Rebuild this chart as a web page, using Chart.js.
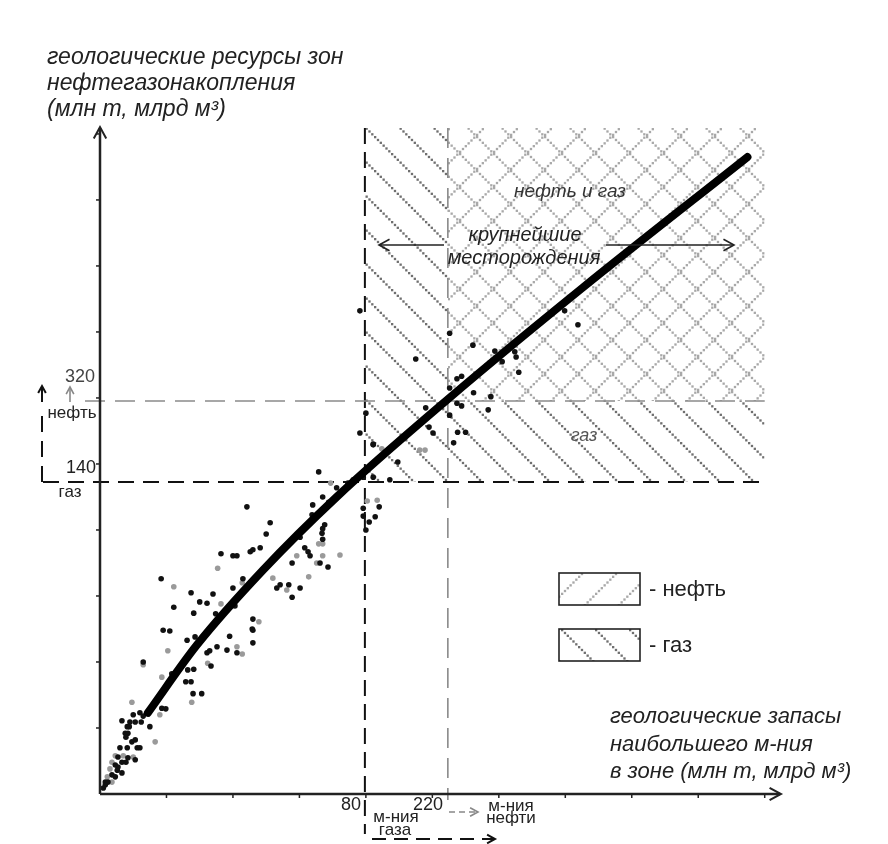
<!DOCTYPE html>
<html>
<head>
<meta charset="utf-8">
<script src="https://cdn.jsdelivr.net/npm/chart.js@4.4.1/dist/chart.umd.min.js"></script>
<style>
  html, body { margin: 0; padding: 0; background: #fff; }
  canvas { display: block; }
</style>
</head>
<body>
<canvas id="scheme" width="888" height="844"></canvas>
<script>
// schematic units: one axis tick = 1 unit
const xTicks = [1, 2, 3, 4, 5, 6, 7, 8, 9, 10];
const yTicks = [1, 2, 3, 4, 5, 6, 7, 8, 9, 10];
const xMarkValues = [3.985, 5.233];
const xMarkLabels = ['80', '220'];
const yMarkValues = [4.727, 5.955];
const yMarkLabels = ['140', '320'];
const zoneRight = 10.0;
const zoneTop = 10.09;

const trendX = [0.72, 1.46, 2.45, 3.56, 5.22, 7.26, 9.74];
const trendY = [1.23, 2.26, 3.39, 4.50, 5.97, 7.67, 9.65];

const blackX = [0.95,1.05,1.31,1.43,1.95,2.30,2.30,0.65,1.61,1.65,1.76,1.91,2.06,1.67,1.08,1.32,1.41,1.29,1.37,1.40,1.53,0.93,0.99,0.50,0.60,0.65,0.33,0.41,0.44,0.45,0.53,0.62,0.75,0.38,0.42,0.39,0.48,0.53,0.30,0.41,0.56,0.60,0.27,0.42,0.53,0.33,0.39,0.23,0.27,0.26,0.33,0.18,0.23,0.08,0.12,0.08,0.05,
  4.11,3.29,3.56,3.73,3.81,2.21,3.20,3.35,3.44,3.19,2.56,3.38,3.35,3.34,2.50,2.41,2.26,2.30,1.82,2.00,2.06,3.01,3.35,3.08,3.13,3.16,3.31,2.89,3.43,2.15,2.71,2.66,2.84,3.01,2.89,2.00,0.92,1.37,1.70,1.50,1.61,1.11,2.03,1.74,1.41,2.30,2.29,
  3.91,5.26,5.61,4.75,5.94,5.97,6.05,6.24,6.26,6.30,6.99,7.19,5.37,5.44,5.26,5.62,5.88,5.37,5.44,5.84,4.90,4.00,5.26,4.95,5.01,5.38,5.50,5.32,3.91,4.11,4.48,3.96,4.11,4.36,4.20,3.96,3.96,4.05,4.14,4.00];
const blackY = [2.48,2.47,2.33,2.38,2.39,2.48,2.29,2.00,2.14,2.17,2.23,2.18,2.14,1.94,1.82,1.88,1.89,1.70,1.70,1.52,1.52,1.30,1.29,1.20,1.23,1.18,1.11,1.02,1.02,1.09,1.09,1.09,1.02,0.92,0.92,0.86,0.79,0.82,0.70,0.70,0.70,0.70,0.56,0.55,0.52,0.48,0.48,0.44,0.41,0.36,0.32,0.29,0.26,0.18,0.18,0.14,0.09,
  5.29,4.88,4.64,4.71,4.76,4.35,4.38,4.50,4.42,4.23,4.11,4.08,4.02,3.95,3.94,3.73,3.67,3.70,3.64,3.61,3.61,3.89,3.86,3.73,3.67,3.61,3.50,3.50,3.44,3.26,3.17,3.12,3.17,3.12,2.98,3.12,3.26,3.05,3.03,2.91,2.89,2.83,2.85,2.73,2.74,2.65,2.50,
  7.32,6.98,6.80,6.59,6.71,6.61,6.55,6.70,6.62,6.39,7.32,7.11,6.29,6.33,6.15,6.08,6.02,5.92,5.88,5.82,5.85,5.77,5.74,5.56,5.47,5.48,5.48,5.32,5.47,5.30,5.03,4.80,4.80,4.76,4.35,4.33,4.21,4.12,4.20,4.00];

const grayX = [1.02,0.65,2.06,2.14,1.62,0.93,1.38,0.90,0.48,0.83,0.35,0.50,0.23,0.18,0.15,0.11,0.18,3.47,3.29,3.35,2.96,3.35,3.61,3.26,1.77,2.60,2.14,3.14,2.81,1.11,1.82,2.39,4.02,4.17,4.81,4.89,4.24];
const grayY = [2.17,1.96,2.23,2.12,1.98,1.77,1.39,1.20,1.39,0.79,0.58,0.56,0.58,0.48,0.38,0.26,0.18,4.71,3.79,3.79,3.61,3.61,3.62,3.50,3.42,3.27,3.20,3.29,3.09,3.14,2.88,2.61,4.44,4.45,5.21,5.21,5.23];

const pts = (xs, ys) => xs.map((x, i) => ({ x: x, y: ys[i] }));

const canvas = document.getElementById('scheme');
const mainCtx = canvas.getContext('2d');

// dotted diagonal hatch tiles
function hatchTile(slashes, color, white) {
  const T = 34, step = T / 12, d = 2.3;
  const c = document.createElement('canvas');
  c.width = T; c.height = T;
  const g = c.getContext('2d');
  if (white) { g.fillStyle = '#fff'; g.fillRect(0, 0, T, T); }
  g.fillStyle = color;
  for (let i = 0; i < T; i += step) {
    if (slashes.includes('\\')) g.fillRect(i, i, d, d);
    if (slashes.includes('/')) g.fillRect(i, T - d - i, d, d);
  }
  return mainCtx.createPattern(c, 'repeat');
}
const gasPattern = hatchTile('\\', '#6f6f6f', false);
const oilPattern = hatchTile('/', '#a8a8a8', false);
const crossPattern = hatchTile('\\/', '#a8a8a8', true);

function dashed(ctx, x1, y1, x2, y2, color, w, dash) {
  ctx.save();
  ctx.strokeStyle = color; ctx.lineWidth = w; ctx.setLineDash(dash);
  ctx.beginPath(); ctx.moveTo(x1, y1); ctx.lineTo(x2, y2); ctx.stroke();
  ctx.restore();
}
function arrow(ctx, x1, y1, x2, y2, color, w, head, dash) {
  ctx.save();
  ctx.strokeStyle = color; ctx.lineWidth = w;
  if (dash) ctx.setLineDash(dash);
  ctx.beginPath(); ctx.moveTo(x1, y1); ctx.lineTo(x2, y2); ctx.stroke();
  ctx.setLineDash([]);
  const a = Math.atan2(y2 - y1, x2 - x1);
  ctx.beginPath();
  ctx.moveTo(x2 - head * Math.cos(a - 0.5), y2 - head * Math.sin(a - 0.5));
  ctx.lineTo(x2, y2);
  ctx.lineTo(x2 - head * Math.cos(a + 0.5), y2 - head * Math.sin(a + 0.5));
  ctx.stroke();
  ctx.restore();
}
function text(ctx, s, x, y, font, color, align) {
  ctx.font = font; ctx.fillStyle = color;
  ctx.textAlign = align || 'left'; ctx.textBaseline = 'middle';
  ctx.fillText(s, x, y);
}

const schemePlugin = {
  id: 'scheme',
  // guide lines go over the hatching but under the points
  afterDatasetDraw(chart, args) {
    if (args.index !== 3) return;
    const ctx = chart.ctx, X = v => chart.scales.x.getPixelForValue(v), Y = v => chart.scales.y.getPixelForValue(v);
    const top = Y(zoneTop), right = X(zoneRight);
    dashed(ctx, X(xMarkValues[0]), top, X(xMarkValues[0]), 834, '#111', 2, [16, 8]);
    dashed(ctx, X(xMarkValues[1]), top, X(xMarkValues[1]), 800, '#8a8a8a', 1.6, [20, 10]);
    dashed(ctx, 43, Y(yMarkValues[0]), right, Y(yMarkValues[0]), '#111', 2, [16, 9]);
    dashed(ctx, 85, Y(yMarkValues[1]), right, Y(yMarkValues[1]), '#8a8a8a', 1.6, [20, 10]);
    dashed(ctx, 42, Y(yMarkValues[0]), 42, 414, '#111', 2, [16, 9]);
  },
  afterDraw(chart) {
    const ctx = chart.ctx, X = v => chart.scales.x.getPixelForValue(v), Y = v => chart.scales.y.getPixelForValue(v);
    const x0 = X(0), y0 = Y(0);
    ctx.save();
    // axes
    ctx.strokeStyle = '#222'; ctx.lineWidth = 2.5;
    ctx.beginPath(); ctx.moveTo(x0, y0); ctx.lineTo(780, y0); ctx.moveTo(x0, y0); ctx.lineTo(x0, 128); ctx.stroke();
    arrow(ctx, x0, y0, 781, y0, '#222', 2, 13);
    arrow(ctx, x0, y0, x0, 127, '#222', 2, 13);
    ctx.lineWidth = 1.5;
    xTicks.forEach(v => { ctx.beginPath(); ctx.moveTo(X(v), y0 - 1); ctx.lineTo(X(v), y0 + 4); ctx.stroke(); });
    yTicks.forEach(v => { ctx.beginPath(); ctx.moveTo(x0 + 1, Y(v)); ctx.lineTo(x0 - 4, Y(v)); ctx.stroke(); });

    // legend boxes
    [[573, oilPattern, '- нефть'], [629, gasPattern, '- газ']].forEach(([y, pat, lab]) => {
      ctx.fillStyle = '#fff'; ctx.fillRect(559, y, 81, 32);
      ctx.fillStyle = pat; ctx.fillRect(559, y, 81, 32);
      ctx.strokeStyle = '#222'; ctx.lineWidth = 1.6; ctx.strokeRect(559, y, 81, 32);
      text(ctx, lab, 649, y + 17, '22px "Liberation Sans", Arial, sans-serif', '#222');
    });

    // axis titles
    const it = 'italic 23px "Liberation Sans", Arial, sans-serif';
    text(ctx, 'геологические ресурсы зон', 47, 58, it, '#222');
    text(ctx, 'нефтегазонакопления', 47, 84, it, '#222');
    text(ctx, '(млн т, млрд м³)', 47, 110, it, '#222');
    const it2 = 'italic 22px "Liberation Sans", Arial, sans-serif';
    text(ctx, 'геологические запасы', 610, 717, it2, '#222');
    text(ctx, 'наибольшего м-ния', 610, 745, it2, '#222');
    text(ctx, 'в зоне (млн т, млрд м³)', 610, 772, it2, '#222');

    // zone labels
    text(ctx, 'нефть и газ', 570, 192, 'italic 19px "Liberation Sans", Arial, sans-serif', '#333', 'center');
    text(ctx, 'крупнейшие', 525, 235, 'italic 20px "Liberation Sans", Arial, sans-serif', '#222', 'center');
    text(ctx, 'месторождения', 524, 258, 'italic 20px "Liberation Sans", Arial, sans-serif', '#222', 'center');
    arrow(ctx, 444, 245, 379, 245, '#222', 1.6, 12);
    arrow(ctx, 606, 245, 734, 245, '#222', 1.6, 12);
    text(ctx, 'газ', 584, 436, 'italic 18px "Liberation Sans", Arial, sans-serif', '#555', 'center');

    // y marks
    const nf = '18px "Liberation Sans", Arial, sans-serif';
    text(ctx, yMarkLabels[1], 80, 377, nf, '#444', 'center');
    text(ctx, 'нефть', 72, 413, '17px "Liberation Sans", Arial, sans-serif', '#222', 'center');
    text(ctx, yMarkLabels[0], 81, 468, nf, '#222', 'center');
    text(ctx, 'газ', 70, 492, '17px "Liberation Sans", Arial, sans-serif', '#222', 'center');
    arrow(ctx, 70, 402, 70, 387, '#888', 1.6, 8);
    arrow(ctx, 42, 402, 42, 386, '#111', 2, 8);

    // x marks
    text(ctx, xMarkLabels[0], 351, 805, nf, '#222', 'center');
    text(ctx, xMarkLabels[1], 428, 805, nf, '#222', 'center');
    const sf = '17px "Liberation Sans", Arial, sans-serif';
    text(ctx, 'м-ния', 396, 817, sf, '#222', 'center');
    text(ctx, 'газа', 395, 830, sf, '#222', 'center');
    text(ctx, 'м-ния', 511, 806, sf, '#222', 'center');
    text(ctx, 'нефти', 511, 818, sf, '#222', 'center');
    arrow(ctx, 449, 812, 478, 812, '#888', 1.6, 9, [6, 4]);
    arrow(ctx, 372, 839, 495, 839, '#111', 2, 9, [14, 8]);
    ctx.restore();
  }
};

new Chart(canvas, {
  type: 'scatter',
  data: {
    datasets: [
      { type: 'line', data: pts(trendX, trendY), borderColor: '#000', borderWidth: 8, borderCapStyle: 'round',
        cubicInterpolationMode: 'monotone', pointRadius: 0, fill: false, order: 0 },
      { data: pts(blackX, blackY), backgroundColor: '#111', borderWidth: 0, pointRadius: 2.8, order: 1 },
      { data: pts(grayX, grayY), backgroundColor: '#9a9a9a', borderWidth: 0, pointRadius: 2.8, order: 2 },
      { type: 'line', data: [{ x: xMarkValues[1], y: zoneTop }, { x: zoneRight, y: zoneTop }], borderWidth: 0,
        pointRadius: 0, backgroundColor: crossPattern, fill: { value: yMarkValues[1] }, order: 3 },
      { type: 'line', data: [{ x: xMarkValues[0], y: zoneTop }, { x: zoneRight, y: zoneTop }], borderWidth: 0,
        pointRadius: 0, backgroundColor: gasPattern, fill: { value: yMarkValues[0] }, order: 4 }
    ]
  },
  options: {
    responsive: false,
    animation: false,
    layout: { padding: { left: 100, right: 108, top: 128, bottom: 50 } },
    scales: {
      x: { type: 'linear', min: 0, max: 10.23, display: false },
      y: { type: 'linear', min: 0, max: 10.09, display: false }
    },
    plugins: { legend: { display: false }, tooltip: { enabled: false } }
  },
  plugins: [schemePlugin]
});
</script>
</body>
</html>
